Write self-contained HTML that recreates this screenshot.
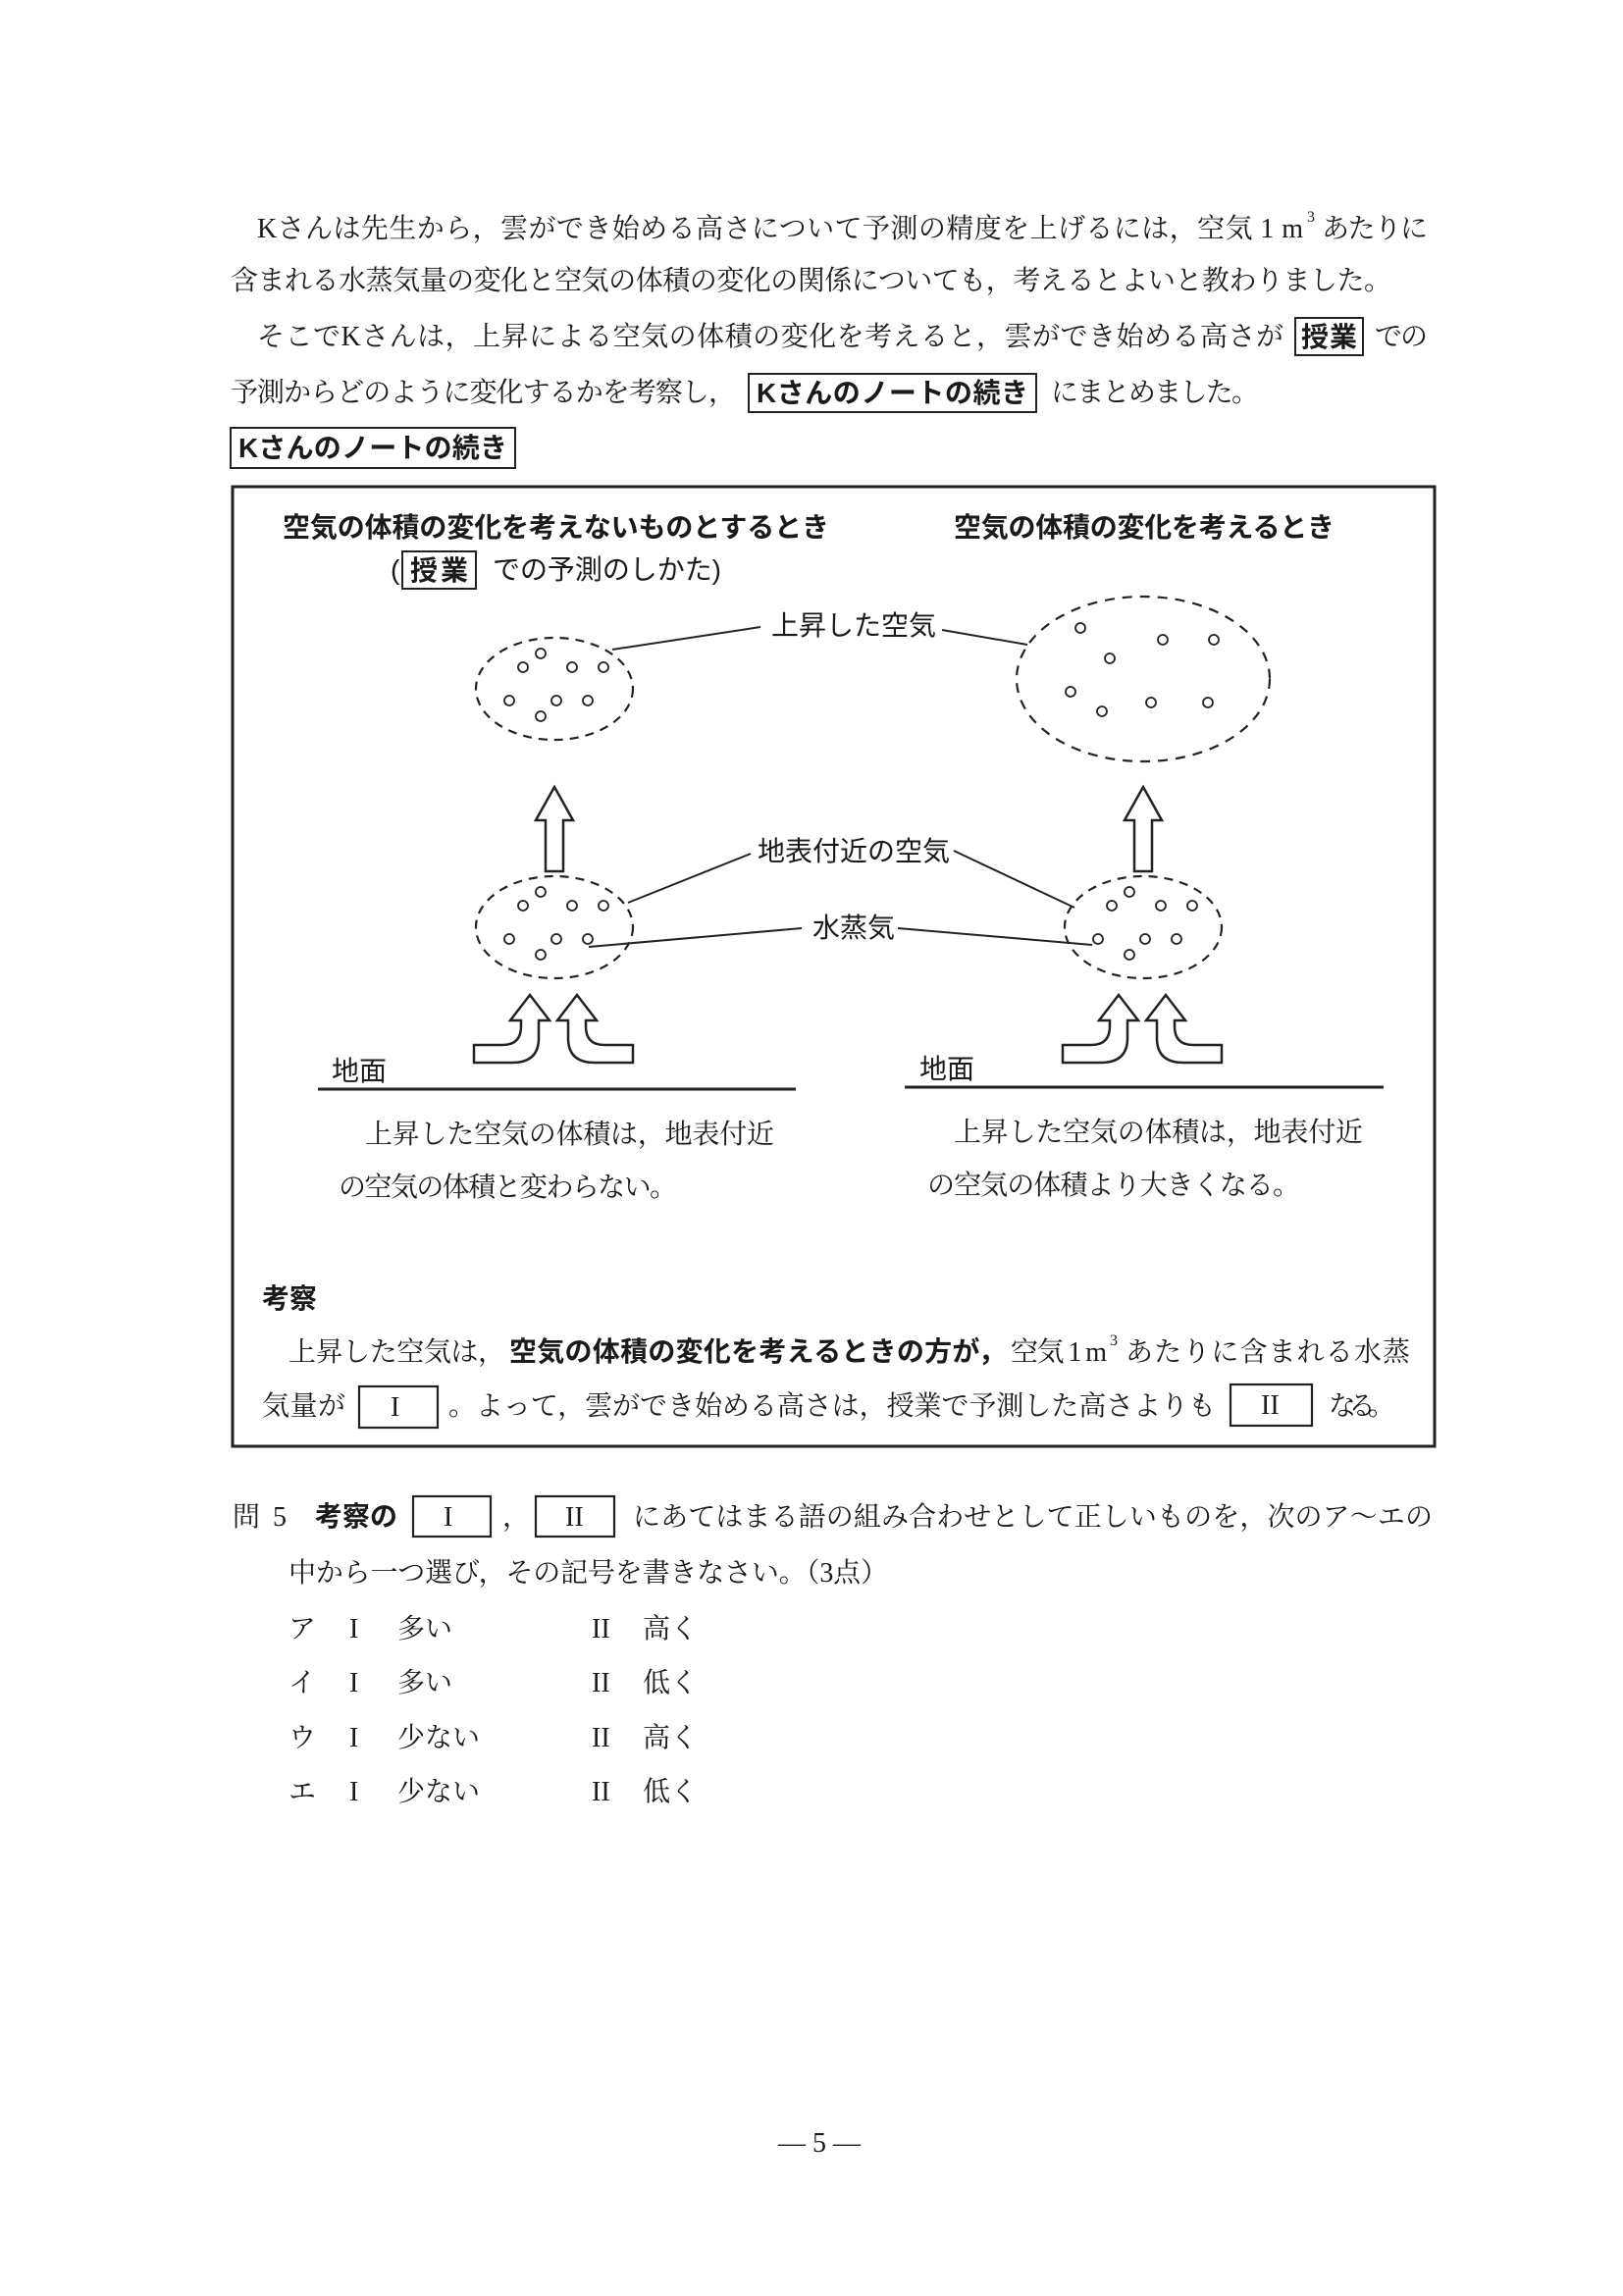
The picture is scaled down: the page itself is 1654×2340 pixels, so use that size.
<!DOCTYPE html>
<html><head><meta charset="utf-8"><style>html,body{margin:0;padding:0;background:#fff}svg{display:block}</style></head>
<body>
<svg width="1654" height="2340" viewBox="0 0 1654 2340" xmlns="http://www.w3.org/2000/svg">
<defs>
<style>
text{font-family:"Liberation Serif","Noto Serif CJK SC","Noto Sans CJK JP",serif;font-size:28px;fill:#1a1a1a}
.g{font-family:"Liberation Sans","Noto Sans CJK JP",sans-serif}
.b{font-family:"Liberation Sans","Noto Sans CJK JP",sans-serif;font-weight:bold}
.sup{font-size:16px}
</style>
</defs>
<rect width="1654" height="2340" fill="#fff"/>

<text x="262" y="242" textLength="1066" lengthAdjust="spacing">Kさんは先生から，雲ができ始める高さについて予測の精度を上げるには，空気 1 m</text>
<text class="sup" x="1332" y="226">3</text>
<text x="1347" y="242" textLength="108" lengthAdjust="spacing">あたりに</text>
<text x="235" y="295" textLength="1183" lengthAdjust="spacing">含まれる水蒸気量の変化と空気の体積の変化の関係についても，考えるとよいと教わりました。</text>
<text x="262" y="352" textLength="1046" lengthAdjust="spacing">そこでKさんは，上昇による空気の体積の変化を考えると，雲ができ始める高さが</text>
<rect x="1320" y="324" width="69" height="38" fill="none" stroke="#222" stroke-width="2"/>
<text class="b" x="1326" y="353" textLength="57" lengthAdjust="spacing">授業</text>
<text x="1401" y="352" textLength="54" lengthAdjust="spacing">での</text>
<text x="235" y="409" textLength="515" lengthAdjust="spacing">予測からどのように変化するかを考察し，</text>
<rect x="763" y="381" width="293" height="39" fill="none" stroke="#222" stroke-width="2"/>
<text class="b" x="771" y="410" textLength="277" lengthAdjust="spacing">Kさんのノートの続き</text>
<text x="1071" y="409" textLength="212" lengthAdjust="spacing">にまとめました。</text>
<rect x="235" y="436" width="290" height="41" fill="none" stroke="#222" stroke-width="2"/>
<text class="b" x="243" y="466" textLength="274" lengthAdjust="spacing">Kさんのノートの続き</text>

<rect x="237" y="496" width="1225" height="978" fill="none" stroke="#222" stroke-width="3"/>

<text class="b" x="288" y="547" textLength="557" lengthAdjust="spacing">空気の体積の変化を考えないものとするとき</text>
<text class="g" x="398" y="590">(</text>
<rect x="410" y="562" width="75" height="38" fill="none" stroke="#222" stroke-width="2"/>
<text class="b" x="418" y="591" textLength="59" lengthAdjust="spacing">授業</text>
<text class="g" x="502" y="590" textLength="233" lengthAdjust="spacing">での予測のしかた)</text>
<text class="b" x="972" y="547" textLength="388" lengthAdjust="spacing">空気の体積の変化を考えるとき</text>

<g fill="none" stroke="#222" stroke-width="2.2">
<ellipse cx="565" cy="702" rx="80" ry="52" stroke-dasharray="9,7"/>
<ellipse cx="1165" cy="692" rx="129" ry="84" stroke-dasharray="10,8"/>
<ellipse cx="565" cy="945" rx="80" ry="52" stroke-dasharray="9,7"/>
<ellipse cx="1165" cy="945" rx="80" ry="52" stroke-dasharray="9,7"/>
</g>
<g fill="#fff" stroke="#222" stroke-width="1.8">
<g transform="translate(565,702)"><circle cx="-14" cy="-36" r="5"/><circle cx="-32" cy="-22" r="5"/><circle cx="18" cy="-22" r="5"/><circle cx="50" cy="-22" r="5"/><circle cx="-46" cy="12" r="5"/><circle cx="2" cy="12" r="5"/><circle cx="34" cy="12" r="5"/><circle cx="-14" cy="28" r="5"/></g>
<g transform="translate(565,945)"><circle cx="-14" cy="-36" r="5"/><circle cx="-32" cy="-22" r="5"/><circle cx="18" cy="-22" r="5"/><circle cx="50" cy="-22" r="5"/><circle cx="-46" cy="12" r="5"/><circle cx="2" cy="12" r="5"/><circle cx="34" cy="12" r="5"/><circle cx="-14" cy="28" r="5"/></g>
<g transform="translate(1165,945)"><circle cx="-14" cy="-36" r="5"/><circle cx="-32" cy="-22" r="5"/><circle cx="18" cy="-22" r="5"/><circle cx="50" cy="-22" r="5"/><circle cx="-46" cy="12" r="5"/><circle cx="2" cy="12" r="5"/><circle cx="34" cy="12" r="5"/><circle cx="-14" cy="28" r="5"/></g>
<g transform="translate(1165,692)"><circle cx="-64" cy="-52" r="5"/><circle cx="20" cy="-40" r="5"/><circle cx="72" cy="-40" r="5"/><circle cx="-34" cy="-21" r="5"/><circle cx="-74" cy="13" r="5"/><circle cx="8" cy="24" r="5"/><circle cx="66" cy="24" r="5"/><circle cx="-42" cy="33" r="5"/></g>
</g>

<g stroke="#222" stroke-width="2" fill="none">
<line x1="624" y1="662" x2="775" y2="639"/>
<line x1="960" y1="642" x2="1047" y2="657"/>
<line x1="640" y1="920" x2="765" y2="870"/>
<line x1="972" y1="867" x2="1095" y2="925"/>
<line x1="600" y1="965" x2="817" y2="946"/>
<line x1="915" y1="946" x2="1113" y2="963"/>
</g>
<text class="g" x="786" y="647" textLength="168" lengthAdjust="spacing">上昇した空気</text>
<text class="g" x="772" y="877" textLength="196" lengthAdjust="spacing">地表付近の空気</text>
<text class="g" x="828" y="955" textLength="84" lengthAdjust="spacing">水蒸気</text>

<g fill="#fff" stroke="#222" stroke-width="2.5" stroke-linejoin="miter">
<path d="M565,802 L584,836 L574,836 L574,888 L556,888 L556,836 L546,836 Z"/>
<path d="M1165,802 L1184,836 L1174,836 L1174,888 L1156,888 L1156,836 L1146,836 Z"/>
<g>
<path d="M483,1065 L512,1065 Q531,1065 531,1046 L531,1040 L520,1040 L540,1014 L560,1040 L549,1040 L549,1058 Q549,1083 522,1083 L483,1083 Z"/>
<path d="M645,1065 L616,1065 Q597,1065 597,1046 L597,1040 L608,1040 L588,1014 L568,1040 L579,1040 L579,1058 Q579,1083 606,1083 L645,1083 Z"/>
</g>
<g transform="translate(600,0)">
<path d="M483,1065 L512,1065 Q531,1065 531,1046 L531,1040 L520,1040 L540,1014 L560,1040 L549,1040 L549,1058 Q549,1083 522,1083 L483,1083 Z"/>
<path d="M645,1065 L616,1065 Q597,1065 597,1046 L597,1040 L608,1040 L588,1014 L568,1040 L579,1040 L579,1058 Q579,1083 606,1083 L645,1083 Z"/>
</g>
</g>

<line x1="324" y1="1110" x2="811" y2="1110" stroke="#222" stroke-width="3"/>
<line x1="922" y1="1108" x2="1410" y2="1108" stroke="#222" stroke-width="3"/>
<text class="g" x="338" y="1101">地面</text>
<text class="g" x="937" y="1099">地面</text>

<text x="372" y="1165" textLength="417" lengthAdjust="spacing">上昇した空気の体積は，地表付近</text>
<text x="345" y="1219" textLength="345" lengthAdjust="spacing">の空気の体積と変わらない。</text>
<text x="972" y="1163" textLength="417" lengthAdjust="spacing">上昇した空気の体積は，地表付近</text>
<text x="945" y="1217" textLength="380" lengthAdjust="spacing">の空気の体積より大きくなる。</text>

<text class="b" x="267" y="1333">考察</text>
<text x="294" y="1387" textLength="221" lengthAdjust="spacing">上昇した空気は，</text>
<text class="b" x="519" y="1387" textLength="506" lengthAdjust="spacing">空気の体積の変化を考えるときの方が，</text>
<text x="1030" y="1387" textLength="98" lengthAdjust="spacing">空気 1 m</text>
<text class="sup" x="1131" y="1371">3</text>
<text x="1147" y="1387" textLength="290" lengthAdjust="spacing">あたりに含まれる水蒸</text>
<text x="267" y="1442" textLength="85" lengthAdjust="spacing">気量が</text>
<rect x="366" y="1413" width="80" height="42" fill="none" stroke="#222" stroke-width="2.2"/>
<text x="398" y="1443">I</text>
<text x="457" y="1442" textLength="782" lengthAdjust="spacing">。よって，雲ができ始める高さは，授業で予測した高さよりも</text>
<rect x="1254" y="1411" width="83" height="42" fill="none" stroke="#222" stroke-width="2.2"/>
<text x="1285" y="1441">II</text>
<text x="1354" y="1442" textLength="68" lengthAdjust="spacing">なる。</text>

<text x="237" y="1555" textLength="55" lengthAdjust="spacing">問 5</text>
<text class="b" x="321" y="1555" textLength="84" lengthAdjust="spacing">考察の</text>
<rect x="421" y="1525" width="79" height="41" fill="none" stroke="#222" stroke-width="2.2"/>
<text x="452" y="1555">I</text>
<text x="512" y="1555">，</text>
<rect x="546" y="1525" width="80" height="41" fill="none" stroke="#222" stroke-width="2.2"/>
<text x="576" y="1555">II</text>
<text x="645" y="1555" textLength="815" lengthAdjust="spacing">にあてはまる語の組み合わせとして正しいものを，次のア〜エの</text>
<text x="294" y="1612" textLength="611" lengthAdjust="spacing">中から一つ選び，その記号を書きなさい。（3点）</text>

<text x="294" y="1669">ア</text><text x="356" y="1669">I</text><text x="405" y="1669">多い</text><text x="603" y="1669">II</text><text x="655" y="1669">高く</text>
<text x="294" y="1724">イ</text><text x="356" y="1724">I</text><text x="405" y="1724">多い</text><text x="603" y="1724">II</text><text x="655" y="1724">低く</text>
<text x="294" y="1780">ウ</text><text x="356" y="1780">I</text><text x="405" y="1780">少ない</text><text x="603" y="1780">II</text><text x="655" y="1780">高く</text>
<text x="294" y="1835">エ</text><text x="356" y="1835">I</text><text x="405" y="1835">少ない</text><text x="603" y="1835">II</text><text x="655" y="1835">低く</text>

<text x="835" y="2193" text-anchor="middle">— 5 —</text>
</svg>
</body></html>
